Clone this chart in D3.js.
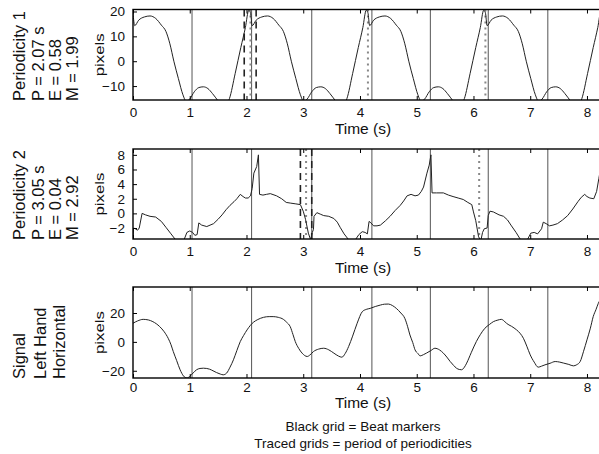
<!DOCTYPE html>
<html>
<head>
<meta charset="utf-8">
<script src="https://cdn.jsdelivr.net/npm/d3@7"></script>
<style>
body { margin: 0; background: #fff; }
svg { display: block; font-family: "Liberation Sans", Arial, sans-serif; }
</style>
</head>
<body>
<svg width="599" height="454"></svg>
<script>
// x axis (time, seconds)
var timeTicks = [0, 1, 2, 3, 4, 5, 6, 7, 8];
var beatTimes = [1.04, 2.09, 3.15, 4.21, 5.24, 6.26, 7.31];

// periodicity 1 (P = 2.07 s)
var p1Title = ["Periodicity 1", "P = 2.07 s", "E = 0.58", "M = 1.99"];
var p1Ticks = [-10, 0, 10, 20];
var p1Dashed = [1.96, 2.17];
var p1Dotted = [2.07, 4.14, 6.21];
var p1Time = [0.00, 0.03, 0.10, 0.20, 0.30, 0.40, 0.50, 0.58, 0.65, 0.72, 0.80, 0.88, 0.94, 1.00, 1.08, 1.16, 1.24, 1.32, 1.40, 1.50, 1.58, 1.65, 1.70, 1.80, 1.90, 1.98, 2.04,
  2.07, 2.10, 2.17, 2.27, 2.37, 2.47, 2.57, 2.65, 2.72, 2.79, 2.87, 2.95, 3.01, 3.07, 3.15, 3.23, 3.31, 3.39, 3.47, 3.57, 3.65, 3.72, 3.77, 3.87, 3.97, 4.05, 4.11,
  4.14, 4.17, 4.24, 4.34, 4.44, 4.54, 4.64, 4.72, 4.79, 4.86, 4.94, 5.02, 5.08, 5.14, 5.22, 5.30, 5.38, 5.46, 5.54, 5.64, 5.72, 5.79, 5.84, 5.94, 6.04, 6.12, 6.18,
  6.21, 6.24, 6.31, 6.41, 6.51, 6.61, 6.71, 6.79, 6.86, 6.93, 7.01, 7.09, 7.15, 7.21, 7.29, 7.37, 7.45, 7.53, 7.61, 7.71, 7.79, 7.86, 7.91, 8.01, 8.11, 8.19, 8.25, 8.28];
var p1Values = [19.5, 14.3, 16.5, 17.8, 18.2, 17.2, 14.5, 12, 7, 0, -7, -13.5, -16.2, -15.2, -12.3, -10.6, -10.3, -11, -13, -16, -18.5, -17.5, -15, -5, 5.5, 13.5, 20.5,
  19.5, 14.3, 16.5, 17.8, 18.2, 17.2, 14.5, 12, 7, 0, -7, -13.5, -16.2, -15.2, -12.3, -10.6, -10.3, -11, -13, -16, -18.5, -17.5, -15, -5, 5.5, 13.5, 20.5,
  19.5, 14.3, 16.5, 17.8, 18.2, 17.2, 14.5, 12, 7, 0, -7, -13.5, -16.2, -15.2, -12.3, -10.6, -10.3, -11, -13, -16, -18.5, -17.5, -15, -5, 5.5, 13.5, 20.5,
  19.5, 14.3, 16.5, 17.8, 18.2, 17.2, 14.5, 12, 7, 0, -7, -13.5, -16.2, -15.2, -12.3, -10.6, -10.3, -11, -13, -16, -18.5, -17.5, -15, -5, 5.5, 13.5, 20.5, 19.5];

// periodicity 2 (P = 3.05 s)
var p2Title = ["Periodicity 2", "P = 3.05 s", "E = 0.04", "M = 2.92"];
var p2Ticks = [-2, 0, 2, 4, 6, 8];
var p2Dashed = [2.95, 3.15];
var p2Dotted = [3.05, 6.10];
var p2Time = [0.00, 0.01, 0.04, 0.08, 0.11, 0.16, 0.22, 0.30, 0.40, 0.50, 0.58, 0.66, 0.75, 0.90, 0.95, 1.00, 1.05, 1.09, 1.13, 1.16, 1.21, 1.30, 1.42, 1.50, 1.57, 1.64, 1.71, 1.78, 1.83, 1.89, 1.94, 1.98,
  2.03, 2.07, 2.10, 2.13, 2.18, 2.21, 2.23, 2.29, 2.35, 2.42, 2.53, 2.62, 2.70, 2.78, 2.87, 2.95, 3.00, 3.04, 3.09, 3.13, 3.16, 3.18, 3.19, 3.24, 3.30, 3.36, 3.45, 3.54, 3.60, 3.65,
  3.72, 3.80, 3.92, 3.98, 4.04, 4.09, 4.13, 4.16, 4.18, 4.24, 4.30, 4.36, 4.45, 4.53, 4.62, 4.71, 4.77, 4.83, 4.90, 4.97, 5.03, 5.08, 5.12, 5.18, 5.22, 5.25, 5.27, 5.35, 5.47, 5.56,
  5.64, 5.73, 5.82, 5.90, 5.97, 6.00, 6.04, 6.09, 6.13, 6.16, 6.19, 6.24, 6.26, 6.29, 6.35, 6.45, 6.53, 6.60, 6.66, 6.75, 6.83, 6.95, 7.01, 7.07, 7.13, 7.20, 7.23, 7.28, 7.34, 7.40,
  7.48, 7.57, 7.66, 7.75, 7.84, 7.90, 7.96, 8.00, 8.05, 8.12, 8.17, 8.21, 8.25, 8.30];
var p2Values = [-3.6, -2.0, -2.1, -2.3, -2.0, 0.0, -0.2, -0.4, -0.5, -1.1, -1.9, -2.7, -3.6, -3.6, -2.6, -2.4, -2.6, -3.0, -2.9, -1.3, -1.6, -1.8, -1.4, -0.8, -0.2, 0.5, 1.1, 1.6, 2.0, 2.6, 2.3, 2.1,
  2.1, 2.4, 3.4, 5.5, 6.4, 8.0, 2.6, 2.5, 2.6, 2.7, 2.4, 2.0, 1.5, 1.4, 1.3, 1.2, 0.3, -0.8, -2.7, -3.6, -2.6, -2.2, -0.4, 0.1, -0.1, -0.3, -0.4, -0.7, -1.2, -1.9,
  -2.8, -3.6, -3.6, -2.9, -2.5, -2.6, -2.8, -1.1, -1.2, -1.7, -1.7, -1.6, -1.0, -0.4, 0.4, 1.1, 1.7, 2.4, 2.6, 2.4, 2.5, 3.0, 3.6, 5.5, 6.6, 8.0, 2.8, 2.8, 2.8, 2.5,
  2.3, 2.1, 1.9, 1.5, 1.2, 0.2, -1.0, -3.2, -3.7, -2.6, -2.1, -2.0, -0.3, 0.3, 0.2, -0.2, -0.4, -0.9, -1.6, -2.6, -3.6, -3.6, -2.7, -2.6, -2.8, -2.1, -1.2, -1.4, -1.7, -1.6,
  -1.4, -0.9, -0.3, 0.6, 1.6, 2.2, 2.6, 2.3, 2.1, 2.0, 3.0, 4.8, 6.6, 8.0];

// raw signal, left hand horizontal
var p3Title = ["Signal", "Left Hand", "Horizontal"];
var p3Ticks = [-20, 0, 20];
var p3Time = [0.00, 0.08, 0.18, 0.27, 0.35, 0.47, 0.55, 0.62, 0.67, 0.71, 0.77, 0.83, 0.89, 0.95, 1.00, 1.06, 1.12, 1.18, 1.24, 1.30, 1.35, 1.41, 1.47, 1.54, 1.59, 1.65, 1.71, 1.77, 1.83, 1.89,
  1.95, 2.01, 2.07, 2.12, 2.20, 2.30, 2.40, 2.47, 2.56, 2.65, 2.71, 2.77, 2.82, 2.86, 2.92, 2.98, 3.07, 3.12, 3.18, 3.27, 3.36, 3.45, 3.54, 3.62, 3.68, 3.74, 3.80, 3.87, 3.95, 4.04,
  4.11, 4.18, 4.27, 4.36, 4.43, 4.50, 4.57, 4.64, 4.72, 4.79, 4.84, 4.88, 4.93, 4.97, 5.02, 5.06, 5.12, 5.17, 5.25, 5.32, 5.40, 5.47, 5.53, 5.59, 5.65, 5.70, 5.75, 5.79, 5.84, 5.88,
  5.96, 6.05, 6.12, 6.20, 6.28, 6.35, 6.43, 6.49, 6.54, 6.58, 6.67, 6.76, 6.82, 6.88, 6.94, 7.00, 7.07, 7.14, 7.20, 7.26, 7.35, 7.44, 7.52, 7.59, 7.68, 7.76, 7.82, 7.88, 7.94, 8.00,
  8.06, 8.11, 8.16, 8.20, 8.28];
var p3Values = [12.9, 14.5, 15.6, 15.2, 14, 10.6, 7, 2.5, -2, -6.7, -13, -19.3, -23.6, -25, -23.9, -21.5, -19.3, -18.4, -18.2, -18.4, -18.9, -20, -21.2, -22.3, -22.8, -21.6, -17.5, -12.4, -6, 0.2,
  4.5, 8.3, 11.5, 13.5, 15.5, 17, 17.5, 17.5, 17, 15.6, 13.5, 10.6, 5, 0.2, -4.5, -7.8, -10.1, -9, -6.7, -5, -4.4, -5.5, -7.8, -9.8, -10.6, -8, -3.2, 4, 12.9, 20.9,
  22.5, 23.2, 24.5, 25.5, 26.1, 26.2, 25.2, 23.2, 20, 16.3, 10.5, 4.8, -0.5, -5.5, -8, -9.7, -8.8, -7.8, -6, -4.4, -5.5, -7.8, -10.5, -13.6, -16.3, -18.2, -19.1, -19.3, -17.5, -14.7,
  -7.5, 0.2, 5, 9.4, 12, 14, 15.1, 15.6, 14.5, 12.9, 10.8, 8.3, 6, 2.5, -3, -9, -14, -17.5, -16.8, -15.9, -14.8, -13.6, -14, -14.7, -15.6, -16.6, -15.8, -13.6, -6.5, 1.4,
  9.5, 17.5, 22.5, 26.7, 31];

var footer = ["Black grid = Beat markers", "Traced grids = period of periodicities"];

var svg = d3.select("svg");
var x = d3.scaleLinear().domain([0, 8.3]).range([133, 604]);

var panels = [
  { title: p1Title, time: p1Time, values: p1Values, ticks: p1Ticks, dashed: p1Dashed, dotted: p1Dotted,
    top: 9.5, bottom: 100, domain: [-15.6, 20.8], curve: d3.curveMonotoneX, titleX: [25, 44, 61, 78], pad: 7, timeDy: 34 },
  { title: p2Title, time: p2Time, values: p2Values, ticks: p2Ticks, dashed: p2Dashed, dotted: p2Dotted,
    top: 149, bottom: 239, domain: [-3.5, 8.8], curve: d3.curveLinear, titleX: [25, 44, 61, 78], pad: 7, timeDy: 34 },
  { title: p3Title, time: p3Time, values: p3Values, ticks: p3Ticks, dashed: [], dotted: [],
    top: 287, bottom: 378, domain: [-25, 38], curve: d3.curveMonotoneX, titleX: [25, 46, 65], pad: 4, timeDy: 30 }
];

panels.forEach(function(p, k) {
  var y = d3.scaleLinear().domain(p.domain).range([p.bottom, p.top]);
  var g = svg.append("g");

  g.append("clipPath").attr("id", "clip" + k)
    .append("rect")
    .attr("x", x.range()[0]).attr("y", p.top)
    .attr("width", x.range()[1] - x.range()[0]).attr("height", p.bottom - p.top);

  // beat markers
  g.selectAll(".beat")
    .data(beatTimes)
    .enter()
    .append("line")
    .attr("x1", function(d) { return x(d); })
    .attr("x2", function(d) { return x(d); })
    .attr("y1", p.top).attr("y2", p.bottom)
    .attr("stroke", "#555").attr("stroke-width", 1);

  // traced grids
  g.selectAll(".dotted")
    .data(p.dotted)
    .enter()
    .append("line")
    .attr("x1", function(d) { return x(d); })
    .attr("x2", function(d) { return x(d); })
    .attr("y1", p.top).attr("y2", p.bottom)
    .attr("stroke", "#888").attr("stroke-width", 2)
    .attr("stroke-dasharray", "2,4");
  g.selectAll(".dashed")
    .data(p.dashed)
    .enter()
    .append("line")
    .attr("x1", function(d) { return x(d); })
    .attr("x2", function(d) { return x(d); })
    .attr("y1", p.top).attr("y2", p.bottom)
    .attr("stroke", "#222").attr("stroke-width", 1.6)
    .attr("stroke-dasharray", "7,5");

  // signal
  var line = d3.line()
    .x(function(d) { return x(d[0]); })
    .y(function(d) { return y(d[1]); })
    .curve(p.curve);
  g.append("path")
    .datum(d3.zip(p.time, p.values))
    .attr("clip-path", "url(#clip" + k + ")")
    .attr("d", line)
    .attr("fill", "none")
    .attr("stroke", "#222")
    .attr("stroke-width", 1);

  // axes with inward ticks
  g.append("g").attr("transform", "translate(0," + p.bottom + ")")
    .call(d3.axisBottom(x).tickValues(timeTicks).tickSizeInner(-4).tickSizeOuter(0).tickPadding(p.pad).tickFormat(d3.format("d")));
  g.append("g").attr("transform", "translate(0," + p.top + ")")
    .call(d3.axisTop(x).tickValues(timeTicks).tickSizeInner(-4).tickSizeOuter(0).tickFormat(""));
  g.append("g").attr("transform", "translate(" + x.range()[0] + ",0)")
    .call(d3.axisLeft(y).tickValues(p.ticks).tickSizeInner(-4).tickSizeOuter(0).tickPadding(8));
  g.selectAll(".domain").remove();
  g.selectAll(".tick line").attr("stroke", "#000");
  g.selectAll(".tick text").attr("font-size", 13.5).attr("fill", "#111")
    .attr("font-family", "Liberation Sans, Arial, sans-serif");

  // frame
  g.append("rect")
    .attr("x", x.range()[0]).attr("y", p.top)
    .attr("width", x.range()[1] - x.range()[0]).attr("height", p.bottom - p.top)
    .attr("fill", "none").attr("stroke", "#000").attr("stroke-width", 1.4);

  g.append("text")
    .attr("x", 363).attr("y", p.bottom + p.timeDy)
    .attr("text-anchor", "middle").attr("font-size", 15.5).attr("fill", "#111")
    .text("Time (s)");

  g.append("text")
    .attr("transform", "translate(104," + (p.top + p.bottom) / 2 + ") rotate(-90)")
    .attr("text-anchor", "middle").attr("font-size", 13.5).attr("fill", "#111")
    .attr("textLength", 43).attr("lengthAdjust", "spacingAndGlyphs")
    .text("pixels");

  g.selectAll(".title")
    .data(p.title)
    .enter()
    .append("text")
    .attr("transform", function(d, i) { return "translate(" + p.titleX[i] + "," + (p.bottom + 1) + ") rotate(-90)"; })
    .attr("font-size", 16.5).attr("fill", "#111")
    .text(function(d) { return d; });
});

svg.selectAll(".footer")
  .data(footer)
  .enter()
  .append("text")
  .attr("x", 363)
  .attr("y", function(d, i) { return 431 + i * 17; })
  .attr("text-anchor", "middle")
  .attr("font-size", 13.5).attr("fill", "#111")
  .text(function(d) { return d; });
</script>
</body>
</html>
